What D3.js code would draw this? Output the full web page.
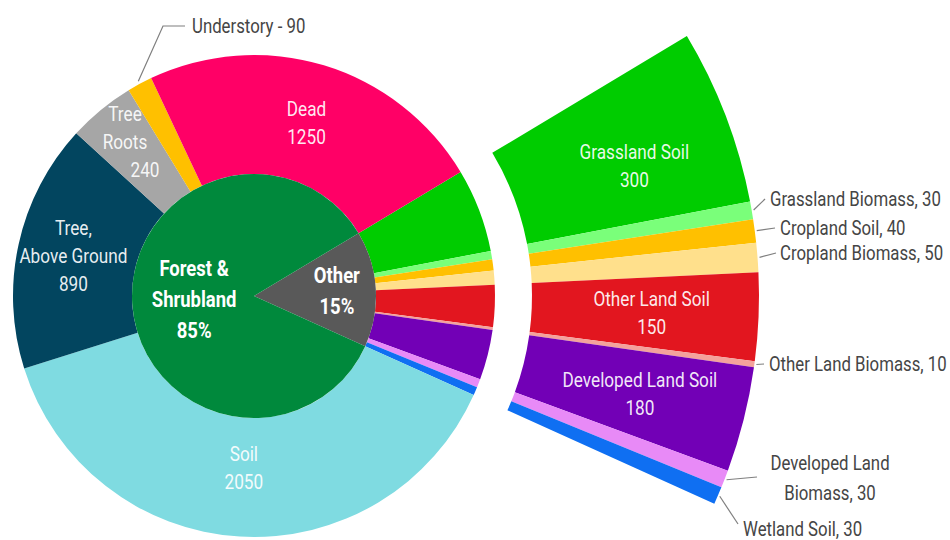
<!DOCTYPE html>
<html><head><meta charset="utf-8">
<script src="https://cdn.jsdelivr.net/npm/d3@7"></script>
<style>
html,body{margin:0;padding:0;background:#fff;}
svg text{font-family:Roboto,"Liberation Sans",sans-serif;}
</style></head>
<body><svg id="c" width="950" height="540"></svg>
<script>
// ---- data ----
const categories = ["Other", "Forest & Shrubland"];
const categoryLabels = [["Other", "15%"], ["Forest &", "Shrubland", "85%"]];
const otherParts = ["Grassland Soil","Grassland Biomass","Cropland Soil","Cropland Biomass","Other Land Soil","Other Land Biomass","Developed Land Soil","Developed Land Biomass","Wetland Soil"];
const otherValues = [300, 30, 40, 50, 150, 10, 180, 30, 30];
const forestParts = ["Soil","Tree, Above Ground","Tree Roots","Understory","Dead"];
const forestValues = [2050, 890, 240, 90, 1250];

// ---- styles ----
const colors = {
  "Other":"#595959","Forest & Shrubland":"#00893c",
  "Grassland Soil":"#00cc00","Grassland Biomass":"#7aff7a","Cropland Soil":"#ffc000","Cropland Biomass":"#ffe08c",
  "Other Land Soil":"#e2161f","Other Land Biomass":"#f4a29c","Developed Land Soil":"#7200b6",
  "Developed Land Biomass":"#e88af7","Wetland Soil":"#0f6ff2",
  "Soil":"#7fdbe1","Tree, Above Ground":"#02455f","Tree Roots":"#a6a6a6","Understory":"#ffc000","Dead":"#ff0066"
};

const svg = d3.select("#c");
const cx = 254, cy = 296;
const r0 = 122, r1 = 241, rx0 = 278, rx1 = 505;
const start = 59 * Math.PI / 180;
const g = svg.append("g").attr("transform", `translate(${cx},${cy})`);

// condensed look: horizontal squeeze factor measured from a reference string
const probe = svg.append("text").attr("font-size", 20).text("Grassland Biomass, 30");
const CONDENSE = 171 / probe.node().getComputedTextLength();
probe.remove();

const leaves = otherParts.map((n,i)=>({name:n, value:otherValues[i], group:"Other"}))
  .concat(forestParts.map((n,i)=>({name:n, value:forestValues[i], group:"Forest & Shrubland"})));
const groups = categories.map((c,i)=>({name:c, value: i===0 ? d3.sum(otherValues) : d3.sum(forestValues), lines: categoryLabels[i]}));

const pie = d3.pie().sort(null).value(d=>d.value).startAngle(start).endAngle(start + 2*Math.PI);
const leafArcs = pie(leaves);
const groupArcs = pie(groups);

const arcInner = d3.arc().innerRadius(0).outerRadius(r0);
const arcRing = d3.arc().innerRadius(r0).outerRadius(r1);
const arcExp = d3.arc().innerRadius(rx0).outerRadius(rx1);

g.selectAll("path.ring").data(leafArcs).join("path").attr("class","ring")
  .attr("d", arcRing).attr("fill", d=>colors[d.data.name]);
g.selectAll("path.exp").data(leafArcs.filter(d=>d.data.group==="Other")).join("path").attr("class","exp")
  .attr("d", arcExp).attr("fill", d=>colors[d.data.name]);
g.selectAll("path.inner").data(groupArcs).join("path").attr("class","inner")
  .attr("d", arcInner).attr("fill", d=>colors[d.data.name]);

function multiline(lines, x, y, lh, opts) {
  const t = g.append("text").attr("text-anchor", opts.anchor || "middle")
    .attr("transform", `translate(${x},${y}) scale(${CONDENSE},1)`)
    .attr("fill", opts.fill).attr("fill-opacity", opts.opacity || 1)
    .attr("font-size", opts.size).attr("font-weight", opts.weight || "normal");
  const n = lines.length;
  lines.forEach((l,i)=>{
    t.append("tspan").attr("x", ((opts.dx && opts.dx[i]) || 0) / CONDENSE)
      .attr("y", (i - (n-1)/2) * lh).attr("dy","0.35em").text(l);
  });
  return t;
}
function polar(a, r){ return [r*Math.sin(a), -r*Math.cos(a)]; }
const mid = d => (d.startAngle + d.endAngle)/2;

// inner labels
groupArcs.forEach(d=>{
  const r = d.data.name==="Other" ? 83 : 60;
  const [x,y] = polar(mid(d), r);
  multiline(d.data.lines, x, y, 31, {fill:"#fff", size:22, weight:"bold"});
});

// ring labels (forest)
const ringLabel = {
  "Soil": {r:172, lines:["Soil"]},
  "Tree, Above Ground": {r:185, lines:["Tree,","Above Ground"]},
  "Tree Roots": {r:200, lines:["Tree","Roots"], dx:[-2,-2,18]},
  "Dead": {r:181, lines:["Dead"]}
};
leafArcs.filter(d=>ringLabel[d.data.name]).forEach(d=>{
  const L = ringLabel[d.data.name];
  const [x,y] = polar(mid(d), L.r);
  multiline(L.lines.concat([String(d.data.value)]), x, y, 28, {fill:"#fff", opacity:0.92, size:20.5, dx:L.dx});
});

// exploded labels
const expLabel = {"Grassland Soil":{r:402, da:0.035}, "Other Land Soil":{r:398, da:0}, "Developed Land Soil":{r:398, da:0}};
leafArcs.filter(d=>expLabel[d.data.name]).forEach(d=>{
  const L = expLabel[d.data.name];
  const [x,y] = polar(mid(d)+L.da, L.r);
  multiline([d.data.name, String(d.data.value)], x, y, 28, {fill:"#fff", opacity:0.92, size:20.5});
});

// outside labels with leaders (page coordinates)
const outside = {
  "Understory":           {r:r1+3, pts:[[163,26],[185,26]], tx:192, ty:26, anchor:"start", lines:d=>[d.data.name+" - "+d.data.value]},
  "Grassland Biomass":    {r:rx1+2, pts:[[765,199]], tx:770, ty:199, anchor:"start", lines:d=>[d.data.name+", "+d.data.value]},
  "Cropland Soil":        {r:rx1+2, pts:[[775,228]], tx:780, ty:228, anchor:"start", lines:d=>[d.data.name+", "+d.data.value]},
  "Cropland Biomass":     {r:rx1+2, pts:[[776,253]], tx:780, ty:253, anchor:"start", lines:d=>[d.data.name+", "+d.data.value]},
  "Other Land Biomass":   {r:rx1+2, pts:[[764,364]], tx:769, ty:364, anchor:"start", lines:d=>[d.data.name+", "+d.data.value]},
  "Developed Land Biomass":{r:rx1+2, pts:[[757,477]], tx:830, ty:478, anchor:"middle", lines:d=>["Developed Land","Biomass, "+d.data.value]},
  "Wetland Soil":         {r:rx1+2, pts:[[738,524]], tx:743, ty:529, anchor:"start", lines:d=>[d.data.name+", "+d.data.value]}
};
leafArcs.filter(d=>outside[d.data.name]).forEach(d=>{
  const L = outside[d.data.name];
  const p0 = polar(mid(d), L.r);
  const pts = [p0].concat(L.pts.map(p=>[p[0]-cx, p[1]-cy]));
  g.append("path").attr("d", d3.line()(pts)).attr("fill","none").attr("stroke","#7f7f7f").attr("stroke-width",1.2);
  multiline(L.lines(d), L.tx-cx, L.ty-cy, 30, {fill:"#454545", size:20, anchor:L.anchor});
});
</script>
</body></html>
